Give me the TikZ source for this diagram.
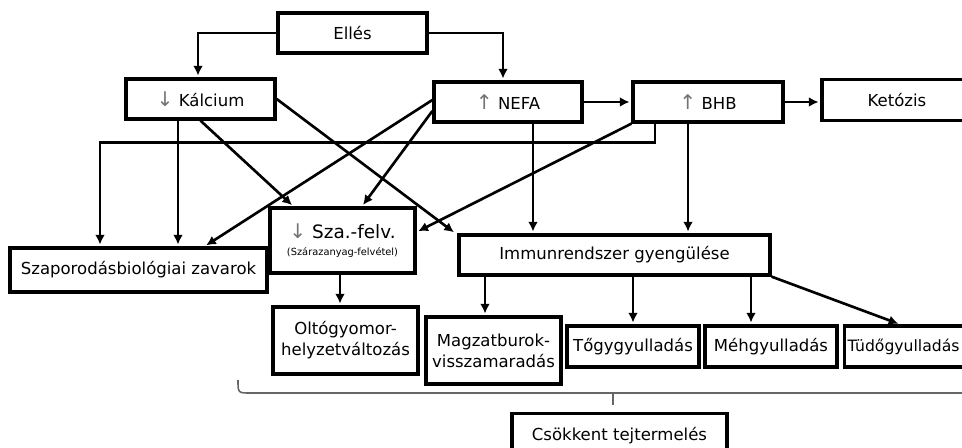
\documentclass[tikz,border=0pt]{standalone}
\usepackage{fontspec}
\setmainfont{DejaVu Sans}
\usetikzlibrary{arrows.meta}
\tikzset{
  box/.style={draw,line width=1.9pt,inner sep=0pt,align=center,font=\fontsize{9.4}{12}\selectfont},
  arr/.style={line width=1.5pt,-{Latex[length=5.5pt,width=5.5pt]},shorten >=1pt},
  brace/.style={line width=0.9pt,black!60}
}
\newcommand{\arrdn}{{\fontsize{11.5}{12}\selectfont\color{black!55}↓}}
\newcommand{\arrup}{{\fontsize{11.5}{12}\selectfont\color{black!55}↑}}
\begin{document}
\begin{tikzpicture}[x=0.02cm,y=-0.02cm]
    \useasboundingbox (0,0) rectangle (962,448);

    \node[box,minimum width=2.98cm,minimum height=0.8cm](e) at (352.5,33) {Ellés};
    \node[box,minimum width=2.98cm,minimum height=0.8cm](k) at (200.5,99) {\arrdn{} Kálcium};
    \node[box,minimum width=2.96cm,minimum height=0.8cm](n) at (508,102) {\arrup{} NEFA};
    \node[box,minimum width=3.0cm,minimum height=0.8cm](bhb) at (708,102) {\arrup{} BHB};
    \node[box,minimum width=3.0cm,minimum height=0.82cm](ket) at (897,100) {Ketózis};
    \node[box,minimum width=5.14cm,minimum height=0.88cm](sz) at (138.5,270) {Szaporodásbiológiai zavarok};
    \node[box,minimum width=2.9cm,minimum height=1.3cm](fel) at (342.5,240.5)
        {{\fontsize{10.5}{11}\selectfont\arrdn{} Sza.-felv.}\\[-2pt]{\fontsize{5.6}{7}\selectfont(Szárazanyag-felvétel)}};
    \node[box,minimum width=6.22cm,minimum height=0.8cm](imm) at (614.5,255) {Immunrendszer gyengülése};
    \node[box,minimum width=2.9cm,minimum height=1.34cm](olt) at (345.5,340.5) {Oltógyomor-\\helyzetváltozás};
    \node[box,minimum width=2.7cm,minimum height=1.34cm](mag) at (493.5,350.5) {Magzatburok-\\visszamaradás};
    \node[box,minimum width=2.64cm,minimum height=0.82cm](tog) at (633,346.5) {Tőgygyulladás};
    \node[box,minimum width=2.64cm,minimum height=0.82cm](meh) at (771,346.5) {Méhgyulladás};
    \node[box,anchor=west,inner xsep=0.06cm,text width=2.9cm,align=left,minimum height=0.82cm,
          font=\fontsize{8.9}{12}\selectfont](tud) at (843,346.5) {Tüdőgyulladás};
    \node[box,minimum width=4.3cm,minimum height=0.9cm](cs) at (619.5,436) {Csökkent tejtermelés};

    % Elles
    \draw[arr] (e.west) -| ([xshift=-0.05cm]k.north);
    \draw[arr] (e.east) -| ([xshift=-0.1cm]n.north);
    \draw[arr] (n.east) -- (n.east -| bhb.west);
    \draw[arr] (bhb.east) -- (bhb.east -| ket.west);
    % Kalcium
    \draw[arr] ([xshift=-0.45cm]k.south) coordinate (k1) -- (k1 |- sz.north);
    \draw[arr] (k.south) -- ([xshift=0.5cm]fel.north west);
    \draw[arr] (k.east) -- ([xshift=-0.04cm]imm.north west);
    % NEFA
    \draw[arr] ([yshift=0.04cm]n.west) -- ([xshift=-1.28cm]sz.north east);
    \draw[arr] ([yshift=-0.18cm]n.west) -- ([xshift=0.39cm]fel.north);
    \draw[arr] ([xshift=0.5cm]n.south) coordinate (n1) -- (n1 |- imm.north);
    % BHB
    \draw[arr] ([xshift=-1.06cm]bhb.south) -- ++(0,19) -| ([xshift=-0.77cm]sz.north);
    \draw[arr] (bhb.south west) -- ([yshift=0.17cm]fel.east);
    \draw[arr] ([xshift=-0.4cm]bhb.south) coordinate (b1) -- (b1 |- imm.north);
    % Sza.-felv.
    \draw[arr] ([xshift=-0.05cm]fel.south) coordinate (f1) -- (f1 |- olt.north);
    % Immunrendszer
    \draw[arr] ([xshift=-0.17cm]mag.north) coordinate (m1) ++(0,-42.5) -- (m1);
    \draw[arr] (tog.north |- imm.south) -- (tog.north);
    \draw[arr] ([xshift=-0.4cm]meh.north) coordinate (h1) ++(0,-51.5) -- (h1);
    \draw[arr] (imm.south east) -- ([xshift=1.14cm]tud.north west);

    % brace
    \draw[brace] (238,380) .. controls (238,393) .. (250,393) -- (962,393);
    \draw[brace,line width=1.3pt] (613,393) -- (613,405);
\end{tikzpicture}
\end{document}
